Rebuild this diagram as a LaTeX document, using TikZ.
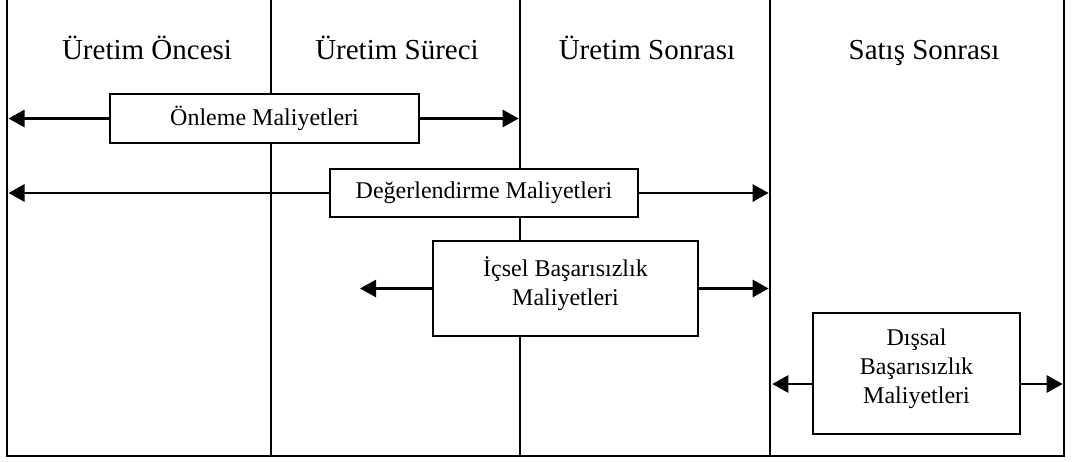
\documentclass[tikz,border=0pt]{standalone}
\usepackage{fontspec}
\setmainfont{Liberation Serif}
\usetikzlibrary{arrows.meta,backgrounds}
\begin{document}
\begin{tikzpicture}[x=1pt,y=-1pt,
  frame/.style={line width=2.6pt},
  costbox/.style={draw, line width=2.6pt, fill=white, inner sep=0pt,
    font=\fontsize{24}{29}\selectfont, align=center},
  head/.style={font=\fontsize{29}{35}\selectfont, anchor=base, inner sep=0pt},
  arr/.style={line width=2.6pt, -{Triangle[length=16pt,width=17pt]}}]
\useasboundingbox (0,0) rectangle (1072,461);

% headers
\node[head] (h1) at (147,59) {Üretim Öncesi};
\node[head] (h2) at (397,59) {Üretim Süreci};
\node[head] (h3) at (647,59) {Üretim Sonrası};
\node[head] (h4) at (924,59) {Satış Sonrası};

% cost boxes
\node[costbox, minimum width=309pt, minimum height=49pt] (onl) at (264.5,118.5) {Önleme Maliyetleri};
\node[costbox, minimum width=308pt, minimum height=48pt] (deg) at (484,193) {Değerlendirme Maliyetleri};
\node[costbox, minimum width=265pt, minimum height=95pt, text depth=14pt] (ics) at (565.5,288.5) {İçsel Başarısızlık\\Maliyetleri};
\node[costbox, minimum width=207pt, minimum height=121pt, text depth=14pt] (dis) at (916.5,373.5) {Dışsal\\Başarısızlık\\Maliyetleri};

% arrow end points
\coordinate (onlL) at (8.5,118.5);
\coordinate (onlR) at (518.7,118.5);
\coordinate (degL) at (8.5,193);
\coordinate (degR) at (768.7,193);
\coordinate (icsL) at (360,288.5);
\coordinate (icsR) at (768.7,288.5);
\coordinate (disL) at (772.3,384);
\coordinate (disR) at (1062.7,384);

\draw[arr] (onl.west) -- (onlL);
\draw[arr] (onl.east) -- (onlR);
\draw[arr] (deg.west) -- (degL);
\draw[arr] (deg.east) -- (degR);
\draw[arr] (ics.west) -- (icsL);
\draw[arr] (ics.east) -- (icsR);
\draw[arr] (dis.west |- disL) -- (disL);
\draw[arr] (dis.east |- disR) -- (disR);

% frame lines behind the boxes
\begin{scope}[on background layer]
\coordinate (c0t) at (7,0);
\coordinate (c0b) at (7,456);
\coordinate (c4t) at (1064,0);
\coordinate (c4b) at (1064,456);
\draw[frame] (c0t) -- (c0b) -- (c4b) -- (c4t);
\coordinate (c1t) at (271,0);
\coordinate (c1b) at (271,456);
\coordinate (c2t) at (520,0);
\coordinate (c2b) at (520,456);
\coordinate (c3t) at (770,0);
\coordinate (c3b) at (770,456);
\draw[frame] (c1t) -- (c1b);
\draw[frame] (c2t) -- (c2b);
\draw[frame] (c3t) -- (c3b);
\end{scope}
\end{tikzpicture}
\end{document}
